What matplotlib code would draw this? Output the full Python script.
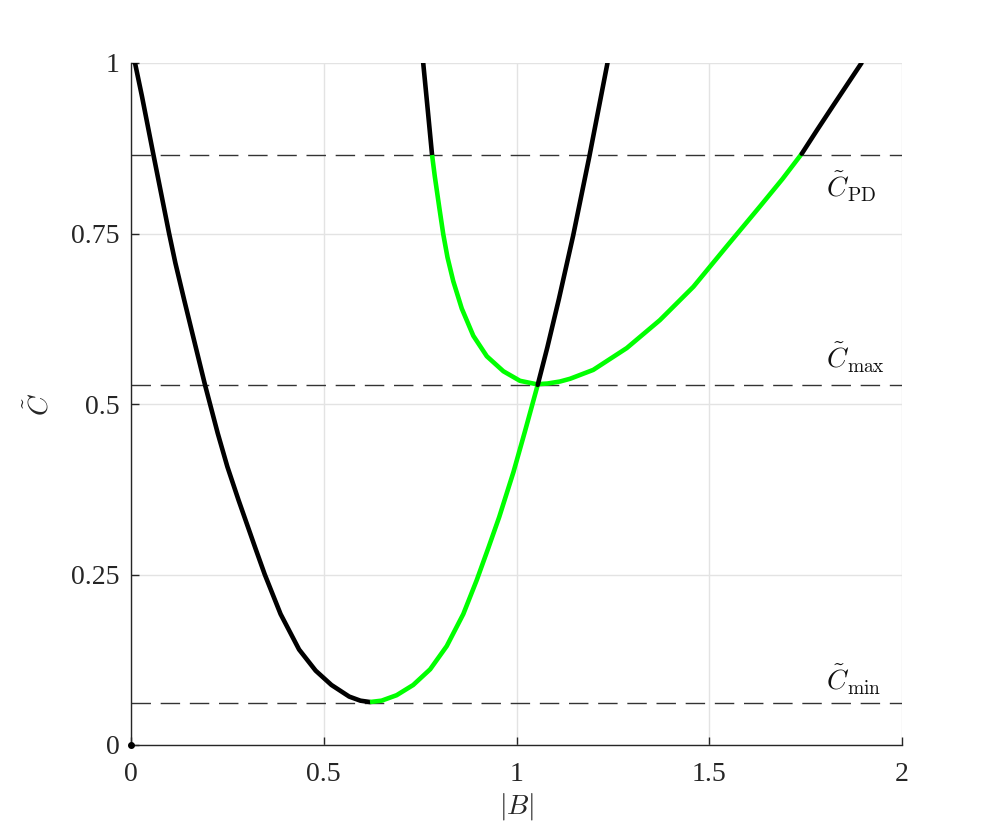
import matplotlib
matplotlib.use("Agg")
import matplotlib.pyplot as plt

# ---- data ----
# branch 1, black descending part
b1_black_B = [0.0104, 0.0285, 0.0455, 0.058, 0.0795, 0.0985, 0.115, 0.138,
              0.159, 0.192, 0.205, 0.225, 0.250, 0.279, 0.323, 0.347, 0.388,
              0.436, 0.479, 0.520, 0.566, 0.595, 0.620]
b1_black_C = [1.000, 0.951, 0.902, 0.866, 0.805, 0.751, 0.707, 0.6525,
              0.604, 0.528, 0.500, 0.457, 0.408, 0.359, 0.288, 0.250, 0.192,
              0.140, 0.109, 0.088, 0.071, 0.065, 0.063]
# branch 1, green rising part
b1_green_B = [0.620, 0.650, 0.689, 0.732, 0.776, 0.819, 0.862, 0.897, 0.927,
              0.955, 0.992, 1.022, 1.055]
b1_green_C = [0.063, 0.065, 0.073, 0.088, 0.111, 0.145, 0.192, 0.242, 0.289,
              0.334, 0.400, 0.460, 0.528]
# branch 1, black upper part
b1_top_B = [1.055, 1.080, 1.110, 1.147, 1.189, 1.236]
b1_top_C = [0.528, 0.583, 0.654, 0.747, 0.863, 1.000]

# branch 2, black left end
b2_left_B = [0.758, 0.770, 0.781]
b2_left_C = [1.000, 0.930, 0.865]
# branch 2, green part
b2_green_B = [0.781, 0.788, 0.800, 0.810, 0.821, 0.836, 0.858, 0.888, 0.923,
              0.966, 1.009, 1.052, 1.080, 1.113, 1.139, 1.199, 1.286, 1.372,
              1.459, 1.545, 1.632, 1.690, 1.740]
b2_green_C = [0.865, 0.834, 0.787, 0.749, 0.715, 0.680, 0.640, 0.600, 0.570,
              0.548, 0.534, 0.529, 0.530, 0.533, 0.537, 0.550, 0.582, 0.623,
              0.672, 0.731, 0.790, 0.830, 0.867]
# branch 2, black right end
b2_right_B = [1.740, 1.780, 1.822, 1.895]
b2_right_C = [0.867, 0.902, 0.938, 1.000]

# reference levels
levels = [0.865, 0.528, 0.062]
level_labels = [r'$\tilde{C}_{\rm PD}$', r'$\tilde{C}_{\max}$', r'$\tilde{C}_{\min}$']
label_C = [0.818, 0.567, 0.095]
label_B = 1.803

xticks = [0, 0.5, 1, 1.5, 2]
xticklabels = ['0', '0.5', '1', '1.5', '2']
yticks = [0, 0.25, 0.5, 0.75, 1]
yticklabels = ['0', '0.25', '0.5', '0.75', '1']

# ---- figure ----
plt.rcParams['mathtext.fontset'] = 'cm'
plt.rcParams['font.family'] = ['Liberation Serif', 'DejaVu Serif']

fig = plt.figure(figsize=(9.97, 8.40), dpi=100)
ax = fig.add_axes([131/997, 95/840, (902-131)/997, (745-63)/840])

axc = '#262626'
ax.set_xlim(0, 2)
ax.set_ylim(0, 1)
ax.set_xticks(xticks)
ax.set_xticklabels(xticklabels)
ax.set_yticks(yticks)
ax.set_yticklabels(yticklabels)
ax.grid(True, color='#e3e3e3', linewidth=1.0)
ax.set_axisbelow(True)
for s in ['top', 'right']:
    ax.spines[s].set_visible(False)
for s in ['left', 'bottom']:
    ax.spines[s].set_color(axc)
    ax.spines[s].set_linewidth(1.0)
ax.tick_params(direction='in', length=6, width=1.0, color=axc,
               labelcolor=axc, labelsize=20)
ax.tick_params(axis='x', pad=12)
ax.tick_params(axis='y', pad=8)

for lv in levels:
    ax.axhline(lv, color='#333333', linewidth=1.0, dashes=(14, 7), zorder=2)

lw = 3.3
ax.plot(b1_black_B, b1_black_C, color='black', lw=lw, solid_capstyle='round',
        solid_joinstyle='round', zorder=3)
ax.plot(b1_green_B, b1_green_C, color='#00ff00', lw=lw, solid_capstyle='butt',
        solid_joinstyle='round', zorder=3)
ax.plot(b2_left_B, b2_left_C, color='black', lw=lw, solid_capstyle='round',
        solid_joinstyle='round', zorder=3)
ax.plot(b2_green_B, b2_green_C, color='#00ff00', lw=lw, solid_capstyle='butt',
        solid_joinstyle='round', zorder=3)
ax.plot(b2_right_B, b2_right_C, color='black', lw=lw, solid_capstyle='round',
        solid_joinstyle='round', zorder=3)
ax.plot(b1_top_B, b1_top_C, color='black', lw=lw, solid_capstyle='round',
        solid_joinstyle='round', zorder=4)
ax.plot([0], [0], 'o', color='black', markersize=4, clip_on=False, zorder=5)

for lab, cy in zip(level_labels, label_C):
    ax.text(label_B, cy, lab, fontsize=20, color='#111111', ha='left', va='center')

ax.set_xlabel(r'$|B|$', fontsize=20, color=axc, labelpad=3)
ax.set_ylabel(r'$\tilde{C}$', fontsize=20, color=axc, labelpad=12)

fig.savefig('out.png', dpi=100)
